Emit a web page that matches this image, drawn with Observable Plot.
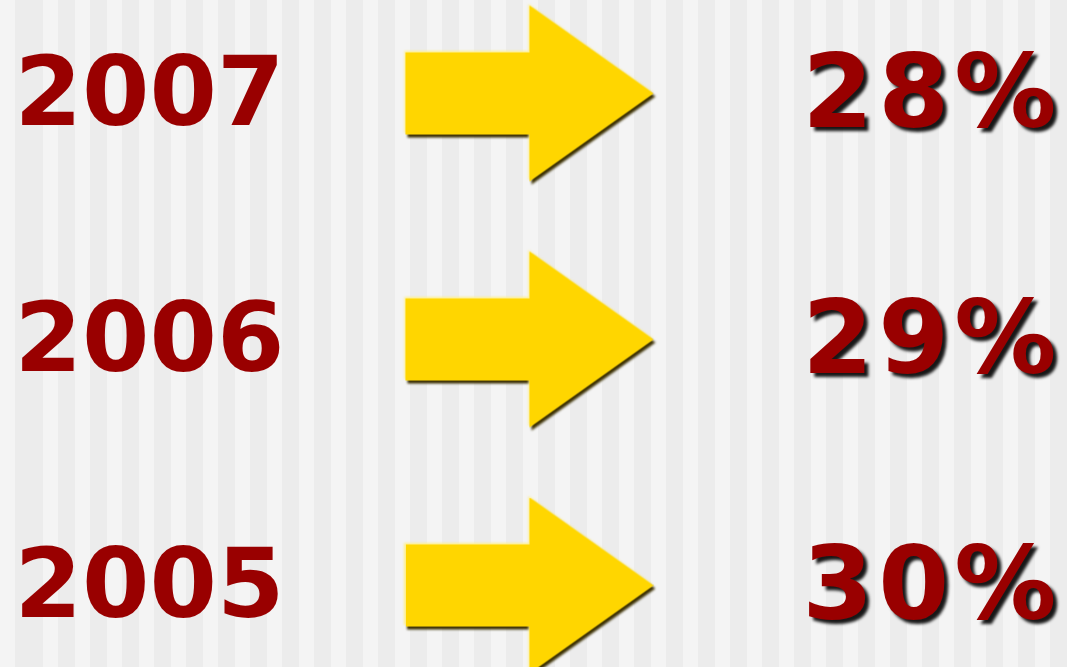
<!DOCTYPE html>
<html>
<head>
<meta charset="utf-8">
<script src="https://cdn.jsdelivr.net/npm/d3@7"></script>
<script src="https://cdn.jsdelivr.net/npm/@observablehq/plot@0.6"></script>
<style>
  html, body { margin: 0; padding: 0; overflow: hidden; }
  body {
    width: 1067px; height: 667px;
    background: repeating-linear-gradient(to right, #ececec 0px, #ececec 17px, #f4f4f4 17px, #f4f4f4 32px);
    background-position: 26px 0;
  }
  #chart svg { display: block; }
</style>
</head>
<body>
<div id="chart"></div>
<script>
// Data
const years = ["2007", "2006", "2005"];
const shares = [28, 29, 30];
const columns = ["year", "arrow", "share"];

const rows = years.map((year, i) => ({ year, share: shares[i], label: shares[i] + "%" }));

// Block arrow shape for Plot.vector (drawn pointing up, then rotated)
const blockArrow = {
  draw(ctx, l) {
    const shaftHalf = 41, headHalf = 88, shaftLen = 124;
    ctx.moveTo(-shaftHalf, 0);
    ctx.lineTo(-shaftHalf, -shaftLen);
    ctx.lineTo(-headHalf, -shaftLen);
    ctx.lineTo(0, -l);
    ctx.lineTo(headHalf, -shaftLen);
    ctx.lineTo(shaftHalf, -shaftLen);
    ctx.lineTo(shaftHalf, 0);
    ctx.closePath();
  }
};

const font = "DejaVu Sans, sans-serif";
const arrowOpts = (extra) => Object.assign({
  x: () => "arrow", y: "year", length: () => 248, rotate: 90, anchor: "middle",
  shape: blockArrow, stroke: "none", dx: -7
}, extra);

const chart = Plot.plot({
  width: 1067,
  height: 667,
  margin: 0,
  style: { background: "none", overflow: "visible" },
  x: { type: "point", domain: columns, range: [13, 1058], padding: 0, axis: null },
  y: { type: "point", domain: years, range: [92, 585], padding: 0, axis: null },
  length: { type: "identity" },
  marks: [
    // years
    Plot.text(rows, { x: () => "year", y: "year", text: "year", textAnchor: "start",
      fontSize: 97, fontWeight: "bold", fontFamily: font, fill: "#990000" }),
    // arrow shadow, highlight, body
    Plot.vector(rows, arrowOpts({ fill: "#3a2e00", dx: -5, dy: 3 })),
    Plot.vector(rows, arrowOpts({ fill: "#fff08a", dx: -8, dy: -1.5 })),
    Plot.vector(rows, arrowOpts({ fill: "#ffd600" })),
    // percentages (drop shadow applied as a filter below)
    Plot.text(rows, { x: () => "share", y: "year", text: "label", textAnchor: "end",
      fontSize: 102, fontWeight: "bold", fontFamily: font, fill: "#990000", dx: 3, dy: 1 })
  ]
});

document.getElementById("chart").appendChild(chart);

// shadows / softening
const groups = chart.querySelectorAll('g[aria-label="text"]');
if (groups[1]) {
  groups[1].style.filter = "drop-shadow(4px 4px 1.5px rgba(0,0,0,0.9))";
  groups[1].style.letterSpacing = "5px";
}
const vecs = chart.querySelectorAll('g[aria-label="vector"]');
if (vecs[0]) vecs[0].style.filter = "blur(1px)";
if (vecs[1]) vecs[1].style.filter = "blur(0.8px)";
</script>
</body>
</html>
